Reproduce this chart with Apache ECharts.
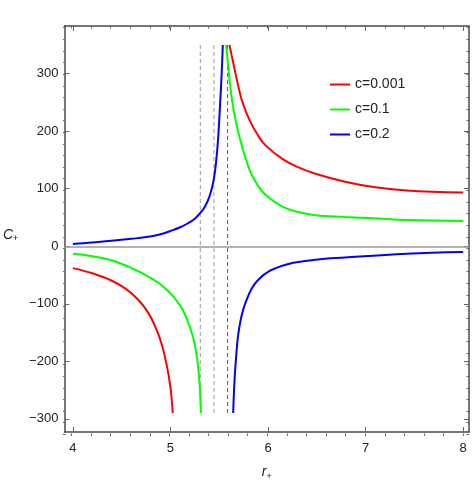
<!DOCTYPE html>
<html>
<head>
<meta charset="utf-8">
<script src="https://cdn.jsdelivr.net/npm/echarts@6/dist/echarts.min.js"></script>
<style>
  html, body { margin: 0; padding: 0; background: #fff; }
  #chart { width: 475px; height: 486px; }
</style>
</head>
<body>
<div id="chart"></div>
<script>
// curve points [r+, C+], two branches per series
const redLeft = [[4.0,-38],[4.2,-47],[4.4,-60],[4.55,-75],[4.67,-93],[4.77,-115],[4.85,-142],[4.91,-170],[4.96,-205],[5.0,-245],[5.024,-290]];
const redRight = [[5.605,350],[5.64,322],[5.67,298],[5.704,272],[5.739,250],[5.806,221],[5.9,192],[5.977,175],[6.147,152],[6.3,138],[6.487,126],[6.79,112],[7.08,103],[7.42,97],[8.0,93.5]];
const greenLeft = [[4.0,-13],[4.19,-17],[4.43,-26],[4.7,-46],[4.94,-72],[5.11,-106],[5.21,-146],[5.25,-172],[5.28,-204],[5.3,-242],[5.313,-290]];
const greenRight = [[5.57,350],[5.6,300],[5.637,248],[5.704,192],[5.806,135],[5.88,110],[5.977,89],[6.147,69],[6.3,60],[6.487,54],[6.79,51],[7.08,48.5],[7.42,45.5],[8.0,44]];
const blueLeft = [[4.0,4],[4.2,6.5],[4.395,9.6],[4.6,13],[4.735,15.5],[4.9,21],[5.007,27],[5.1,33],[5.18,40],[5.25,48],[5.306,58],[5.35,68],[5.39,82],[5.42,98],[5.446,118],[5.47,150],[5.49,190],[5.51,250],[5.525,300],[5.537,350]];
const blueRight = [[5.643,-290],[5.655,-240],[5.67,-200],[5.704,-143],[5.772,-97],[5.908,-57],[6.147,-34],[6.487,-23.6],[6.79,-19.6],[7.42,-13],[8.0,-10]];
const names = ['c=0.001', 'c=0.1', 'c=0.2'];
const colors = ['#ff0000', '#00ff00', '#0000ff'];
const asymptotes = [5.306, 5.446, 5.586];
const asymColors = ['#9a9a9a', '#9a9a9a', '#555555'];
const dashRange = [-290, 350];
const xMajor = [4, 5, 6, 7, 8];
const yMajor = [-300, -200, -100, 0, 100, 200, 300];

const xMin = 3.913, xMax = 8.06, yMin = -323, yMax = 383;
const xMinor = [], yMinor = [];
for (let v = 3.8; v <= 8.01; v += 0.2) xMinor.push(+v.toFixed(1));
for (let v = -320; v <= 380; v += 20) yMinor.push(v);

const font = 'Liberation Sans, Arial, sans-serif';
const gridBox = { left: 63, right: 6, top: 26, bottom: 50 };

const chart = echarts.init(document.getElementById('chart'));

// grid 0 holds the data and major ticks, grid 1 sits on top of it for minor ticks
function axis(pos, gridIndex, min, max, ticks, tickLen, line, labels) {
  return {
    type: 'value', gridIndex: gridIndex, position: pos, min: min, max: max,
    splitLine: { show: false },
    axisLine: { show: line, onZero: false, lineStyle: { color: '#4a4a4a', width: 1.5 } },
    axisTick: { show: true, inside: true, length: tickLen, customValues: ticks, lineStyle: { color: '#666', width: 1 } },
    axisLabel: labels ? {
      show: true, customValues: ticks, color: '#222', fontSize: 13, fontFamily: font,
      margin: (pos === 'bottom') ? 10 : 6,
      formatter: v => (v < 0 ? '\u2212' + Math.abs(v) : String(v))
    } : { show: false }
  };
}

const subRich = {
  i: { fontStyle: 'italic', fontSize: 14, fontFamily: font, color: '#222' },
  s: { fontSize: 9, fontFamily: font, color: '#222', padding: [8, 0, 0, 0] }
};

const xBottom = axis('bottom', 0, xMin, xMax, xMajor, 5, true, true);
xBottom.name = '{i|r}{s|+}';
xBottom.nameLocation = 'middle';
xBottom.nameGap = 32;
xBottom.nameTextStyle = { rich: subRich };
const yLeft = axis('left', 0, yMin, yMax, yMajor, 5, true, true);
yLeft.name = '{i|C}{s|+}';
yLeft.nameLocation = 'middle';
yLeft.nameRotate = 0;
yLeft.nameGap = 46;
yLeft.nameTextStyle = { rich: subRich, padding: [12, 0, 0, 0] };

const xAxes = [
  xBottom,
  axis('top', 0, xMin, xMax, xMajor, 5, true, false),
  axis('bottom', 1, xMin, xMax, xMinor, 2.5, false, false),
  axis('top', 1, xMin, xMax, xMinor, 2.5, false, false)
];
const yAxes = [
  yLeft,
  axis('right', 0, yMin, yMax, yMajor, 5, true, false),
  axis('left', 1, yMin, yMax, yMinor, 2.5, false, false),
  axis('right', 1, yMin, yMax, yMinor, 2.5, false, false)
];

const branches = [[redLeft, redRight], [greenLeft, greenRight], [blueLeft, blueRight]];
const series = [];

asymptotes.forEach((x, i) => {
  series.push({
    type: 'line',
    silent: true,
    showSymbol: false,
    data: [[x, dashRange[0]], [x, dashRange[1]]],
    lineStyle: { color: asymColors[i], width: 1, type: [4, 3] },
    z: 1
  });
});

// zero line
series.push({
  type: 'line',
  silent: true,
  data: [],
  markLine: {
    silent: true,
    symbol: 'none',
    label: { show: false },
    lineStyle: { color: '#999', width: 1.5, type: 'solid' },
    data: [{ yAxis: 0 }]
  },
  z: 1
});

branches.forEach((pair, i) => {
  pair.forEach(pts => {
    series.push({
      name: names[i],
      type: 'line',
      data: pts,
      showSymbol: false,
      smooth: 0.4,
      color: colors[i],
      lineStyle: { color: colors[i], width: 2 },
      z: 3
    });
  });
});

chart.setOption({
  animation: false,
  backgroundColor: '#fff',
  grid: [gridBox, gridBox],
  legend: {
    data: names,
    orient: 'vertical',
    left: 325,
    top: 72,
    icon: 'rect',
    itemWidth: 20,
    itemHeight: 2,
    itemGap: 10,
    textStyle: { fontSize: 14, fontFamily: font, color: '#222', lineHeight: 15 }
  },
  xAxis: xAxes,
  yAxis: yAxes,
  series: series
});
</script>
</body>
</html>
